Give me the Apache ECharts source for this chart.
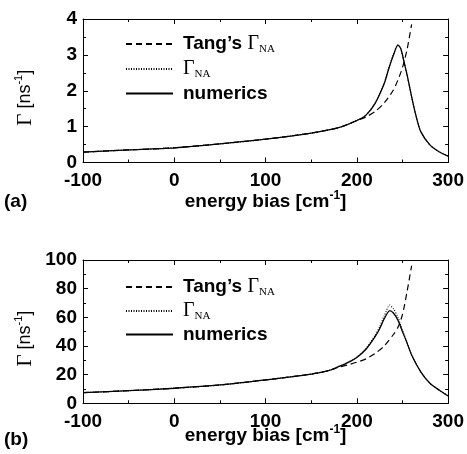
<!DOCTYPE html>
<html>
<head>
<meta charset="utf-8">
<script src="https://cdn.jsdelivr.net/npm/echarts@6/dist/echarts.min.js"></script>
<style>
  html, body { margin: 0; padding: 0; background: #fff; }
  #chart { width: 467px; height: 454px; }
</style>
</head>
<body>
<div id="chart"></div>
<script>
// panel (a)
var xA = [-100, -50, 0, 50, 100, 150, 180, 200, 210, 220, 230, 235, 240, 245, 248, 250, 255, 260, 265, 270, 280, 290, 300];
var numericsA = [0.29, 0.35, 0.41, 0.52, 0.65, 0.82, 0.97, 1.17, 1.32, 1.65, 2.2, 2.62, 2.99, 3.27, 3.18, 2.99, 2.44, 1.83, 1.28, 0.86, 0.49, 0.30, 0.18];
var gammaA = [0.29, 0.35, 0.41, 0.52, 0.65, 0.82, 0.97, 1.17, 1.32, 1.66, 2.22, 2.64, 3.01, 3.29, 3.19, 3.0, 2.44, 1.83, 1.28, 0.86, 0.49, 0.30, 0.18];
var tangXA = [-100, -50, 0, 50, 100, 150, 180, 200, 210, 220, 230, 240, 245, 250, 255, 260];
var tangA = [0.29, 0.35, 0.41, 0.52, 0.65, 0.82, 0.97, 1.17, 1.27, 1.42, 1.66, 2.02, 2.3, 2.65, 3.15, 3.85];

// panel (b)
var xB = [-100, -50, 0, 50, 100, 150, 170, 180, 190, 200, 210, 220, 225, 230, 236, 240, 245, 250, 255, 260, 270, 280, 290, 300];
var numericsB = [7.4, 8.8, 10.5, 12.8, 16.3, 20.4, 23, 25.6, 28.4, 32, 37.7, 46.5, 52, 59, 64.7, 63, 58, 50, 42, 33.7, 22, 14, 9.3, 5.1];
var gammaB = [7.4, 8.8, 10.5, 12.8, 16.3, 20.4, 23, 25.6, 28.4, 32.3, 38.3, 47.5, 53.5, 61, 68.5, 66, 60, 51, 42.5, 33.7, 22, 14, 9.3, 5.1];
var tangXB = [-100, -50, 0, 50, 100, 150, 170, 180, 190, 200, 210, 220, 230, 240, 245, 250, 255, 260];
var tangB = [7.4, 8.8, 10.5, 12.8, 16.3, 20.4, 23, 25.2, 26.8, 28.7, 31, 34.8, 40, 48, 53, 62, 78, 96];

var names = ['Tang', 'Gamma', 'numerics'];
var sans = '"Liberation Sans", Arial, sans-serif';
var serif = '"Liberation Serif", "Times New Roman", serif';

function pairs(xs, ys) {
  return xs.map(function (x, i) { return [x, ys[i]]; });
}

var legendRich = {
  b: { fontFamily: sans, fontWeight: 'bold', fontSize: 19, color: '#000', lineHeight: 22 },
  g: { fontFamily: serif, fontSize: 20, color: '#000', lineHeight: 22 },
  s: { fontFamily: serif, fontSize: 11, color: '#000', lineHeight: 9, verticalAlign: 'bottom' }
};

function legendFormatter(name) {
  if (name === 'Tang') return '{b|Tang\u2019s }{g|\u0393}{s|NA}';
  if (name === 'Gamma') return '{g|\u0393}{s|NA}';
  return '{b|numerics}';
}

var tickLabel = { fontFamily: sans, fontWeight: 'bold', fontSize: 19, color: '#000' };
var black = { color: '#000', width: 1 };

function xAxes(gridIndex, nameGap) {
  return [{
    type: 'value', gridIndex: gridIndex, min: -100, max: 300, interval: 100,
    axisLine: { onZero: false, lineStyle: black },
    axisTick: { inside: true, length: 5, lineStyle: black },
    minorTick: { show: true, splitNumber: 2, length: 3, lineStyle: black },
    splitLine: { show: false },
    axisLabel: Object.assign({ margin: 9 }, tickLabel),
    name: '{n|energy bias [cm}{p|-1}{n|]}',
    nameLocation: 'middle', nameGap: nameGap, nameMoveOverlap: false,
    nameTextStyle: {
      rich: {
        n: { fontFamily: sans, fontWeight: 'bold', fontSize: 19, color: '#000', lineHeight: 24 },
        p: { fontFamily: sans, fontWeight: 'bold', fontSize: 12, color: '#000', lineHeight: 14, verticalAlign: 'top' }
      }
    }
  }, {
    type: 'value', gridIndex: gridIndex, position: 'top', min: -100, max: 300, interval: 100,
    axisLine: { onZero: false, lineStyle: black },
    axisTick: { inside: true, length: 5, lineStyle: black },
    minorTick: { show: true, splitNumber: 2, length: 3, lineStyle: black },
    splitLine: { show: false },
    axisLabel: { show: false }
  }];
}

function yAxes(gridIndex, max, interval) {
  return [{
    type: 'value', gridIndex: gridIndex, min: 0, max: max, interval: interval,
    axisLine: { show: true, onZero: false, lineStyle: black },
    axisTick: { show: true, inside: true, length: 5, lineStyle: black },
    minorTick: { show: true, splitNumber: 2, length: 3, lineStyle: black },
    splitLine: { show: false },
    axisLabel: Object.assign({ margin: 6 }, tickLabel),
    name: '{g|\u0393}{t| [ns}{p|-1}{t|]}',
    nameLocation: 'middle', nameGap: 46, nameRotate: 90, nameMoveOverlap: false,
    nameTextStyle: {
      padding: [0, 14, 0, 0],
      rich: {
        g: { fontFamily: serif, fontSize: 21, color: '#000', lineHeight: 24 },
        t: { fontFamily: sans, fontSize: 18, color: '#000', lineHeight: 24 },
        p: { fontFamily: sans, fontSize: 11, color: '#000', lineHeight: 14, verticalAlign: 'top' }
      }
    }
  }, {
    type: 'value', gridIndex: gridIndex, position: 'right', min: 0, max: max, interval: interval,
    axisLine: { show: true, onZero: false, lineStyle: black },
    axisTick: { show: true, inside: true, length: 5, lineStyle: black },
    minorTick: { show: true, splitNumber: 2, length: 3, lineStyle: black },
    splitLine: { show: false },
    axisLabel: { show: false }
  }];
}

function lineSeries(name, xi, yi, data, type, width) {
  return {
    name: name, type: 'line', xAxisIndex: xi, yAxisIndex: yi,
    data: data, symbol: 'none', smooth: 0.25,
    lineStyle: { color: '#000', width: width, type: type },
    itemStyle: { color: '#000' }
  };
}

function legendFor(top, gap) {
  return {
    left: 125, top: top, padding: 0, orient: 'vertical',
    itemWidth: 47, itemHeight: 14, itemGap: gap,
    data: names, formatter: legendFormatter, selectedMode: false,
    itemStyle: { opacity: 0 },
    textStyle: { padding: [0, 0, 0, 5], rich: legendRich }
  };
}

var chart = echarts.init(document.getElementById('chart'));
var option = {
  animation: false,
  backgroundColor: '#fff',
  grid: [
    { left: 83, right: 18, top: 19, height: 143.5 },
    { left: 83, right: 18, top: 260, height: 143.3 }
  ],
  xAxis: xAxes(0, 27).concat(xAxes(1, 20)),
  yAxis: yAxes(0, 4, 1).concat(yAxes(1, 100, 20)),
  legend: [legendFor(34, 4), legendFor(277, 3)],
  graphic: [
    { type: 'text', left: 4, top: 192, style: { text: '(a)', font: 'bold 19px ' + sans, fill: '#000' } },
    { type: 'text', left: 4, top: 430, style: { text: '(b)', font: 'bold 19px ' + sans, fill: '#000' } }
  ],
  series: [
    lineSeries('Tang', 0, 0, pairs(tangXA, tangA), [6, 4], 1.2),
    lineSeries('Gamma', 0, 0, pairs(xA, gammaA), [1, 1.5], 1.1),
    lineSeries('numerics', 0, 0, pairs(xA, numericsA), 'solid', 1.3),
    lineSeries('Tang', 2, 2, pairs(tangXB, tangB), [6, 4], 1.2),
    lineSeries('Gamma', 2, 2, pairs(xB, gammaB), [1, 1.5], 1.1),
    lineSeries('numerics', 2, 2, pairs(xB, numericsB), 'solid', 1.3)
  ]
};
chart.setOption(option);
</script>
</body>
</html>
